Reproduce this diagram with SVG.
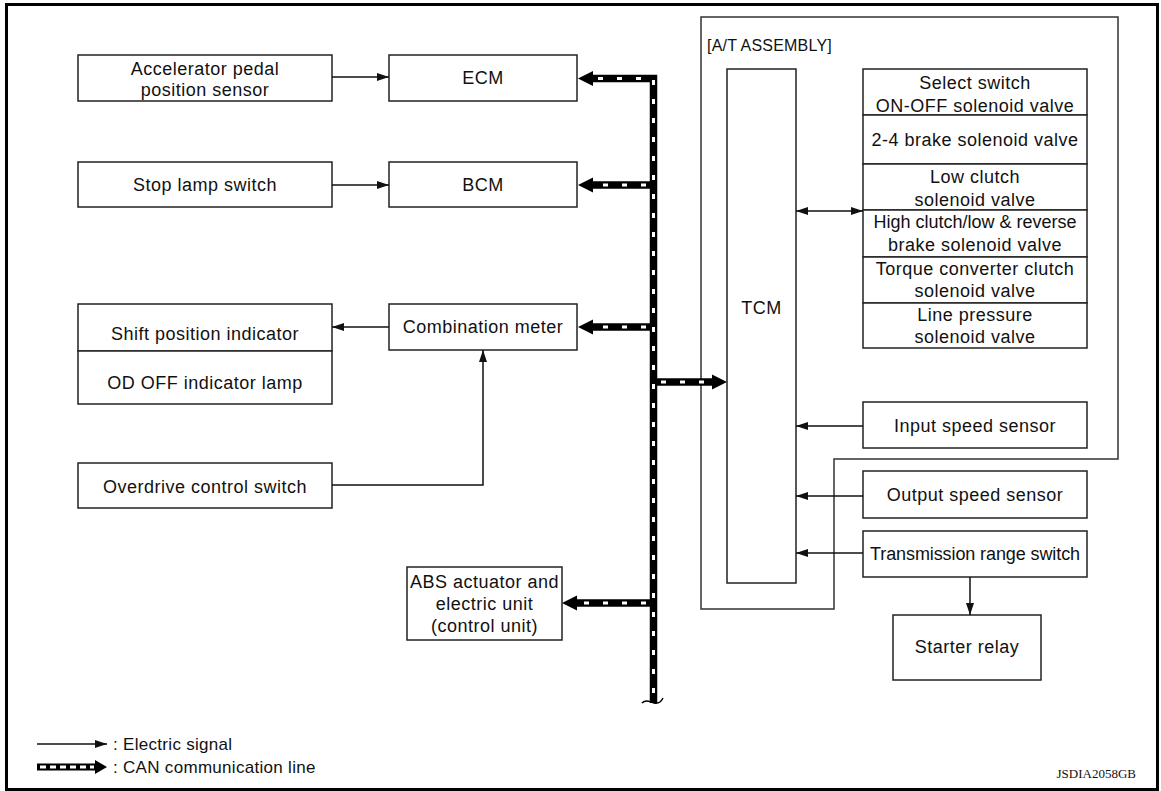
<svg xmlns="http://www.w3.org/2000/svg" width="1161" height="791" viewBox="0 0 1161 791">
  <style>
    .box { fill: #fff; stroke: #222; stroke-width: 1.5; }
    .frame { fill: none; stroke: #000; stroke-width: 3; }
    .asm { fill: none; stroke: #333; stroke-width: 1.5; }
    .lbl { font-family: "Liberation Sans", Arial, Helvetica, sans-serif; font-size: 18px; letter-spacing: 0.5px; fill: #111; text-anchor: middle; }
    .sig { fill: none; stroke: #111; stroke-width: 1.5; }
    .can { fill: none; stroke: #000; stroke-width: 7.5; }
    .can-dash { fill: none; stroke: #fff; stroke-width: 3; stroke-dasharray: 5 14; }
    .head { fill: #000; }
    .legend { font-family: "Liberation Sans", Arial, Helvetica, sans-serif; font-size: 17px; letter-spacing: 0.3px; fill: #111; }
    .code { font-family: "Liberation Serif", "Times New Roman", serif; font-size: 13px; fill: #111; }
  </style>
  <defs>
    <marker id="arr" viewBox="0 0 12 8" refX="12" refY="4" markerWidth="12" markerHeight="8" markerUnits="userSpaceOnUse" orient="auto-start-reverse">
      <path d="M0,0 L12,4 L0,8 Z" fill="#111"/>
    </marker>
  </defs>

  <rect class="frame" x="6.5" y="4.5" width="1151" height="785"/>

  <!-- A/T assembly boundary -->
  <g id="at-assembly">
    <path class="asm" d="M701,17 H1118 V459 H834 V609 H701 Z"/>
    <text class="lbl" x="707" y="51" style="text-anchor:start; font-size:16px; letter-spacing:0.2px">[A/T ASSEMBLY]</text>
  </g>

  <!-- left column -->
  <g id="accel-sensor">
    <rect class="box" x="78" y="55" width="254" height="46"/>
    <text class="lbl" x="205" y="75">Accelerator pedal</text>
    <text class="lbl" x="205" y="96">position sensor</text>
  </g>
  <g id="ecm">
    <rect class="box" x="389" y="55" width="188" height="46"/>
    <text class="lbl" x="483" y="84">ECM</text>
  </g>
  <g id="stop-lamp">
    <rect class="box" x="78" y="162" width="254" height="45"/>
    <text class="lbl" x="205" y="191">Stop lamp switch</text>
  </g>
  <g id="bcm">
    <rect class="box" x="389" y="162" width="188" height="45"/>
    <text class="lbl" x="483" y="191">BCM</text>
  </g>
  <g id="indicators">
    <rect class="box" x="78" y="304" width="254" height="47"/>
    <rect class="box" x="78" y="351" width="254" height="53"/>
    <text class="lbl" x="205" y="340">Shift position indicator</text>
    <text class="lbl" x="205" y="389">OD OFF indicator lamp</text>
  </g>
  <g id="combination-meter">
    <rect class="box" x="389" y="304" width="188" height="46"/>
    <text class="lbl" x="483" y="333">Combination meter</text>
  </g>
  <g id="od-switch">
    <rect class="box" x="78" y="463" width="254" height="45"/>
    <text class="lbl" x="205" y="493">Overdrive control switch</text>
  </g>
  <g id="abs">
    <rect class="box" x="407" y="567" width="155" height="73"/>
    <text class="lbl" x="484.5" y="588">ABS actuator and</text>
    <text class="lbl" x="484.5" y="610">electric unit</text>
    <text class="lbl" x="484.5" y="632">(control unit)</text>
  </g>

  <!-- transmission side -->
  <g id="tcm">
    <rect class="box" x="727" y="69" width="69" height="514"/>
    <text class="lbl" x="761.5" y="314">TCM</text>
  </g>
  <g id="solenoids">
    <rect class="box" x="863" y="69" width="224" height="46"/>
    <rect class="box" x="863" y="115" width="224" height="49"/>
    <rect class="box" x="863" y="164" width="224" height="46"/>
    <rect class="box" x="863" y="210" width="224" height="47"/>
    <rect class="box" x="863" y="257" width="224" height="46"/>
    <rect class="box" x="863" y="303" width="224" height="45"/>
    <text class="lbl" x="975" y="89">Select switch</text>
    <text class="lbl" x="975" y="112">ON-OFF solenoid valve</text>
    <text class="lbl" x="975" y="146">2-4 brake solenoid valve</text>
    <text class="lbl" x="975" y="183">Low clutch</text>
    <text class="lbl" x="975" y="206">solenoid valve</text>
    <text class="lbl" x="975" y="228" style="letter-spacing:0px">High clutch/low &amp; reverse</text>
    <text class="lbl" x="975" y="251">brake solenoid valve</text>
    <text class="lbl" x="975" y="275">Torque converter clutch</text>
    <text class="lbl" x="975" y="297">solenoid valve</text>
    <text class="lbl" x="975" y="321">Line pressure</text>
    <text class="lbl" x="975" y="343">solenoid valve</text>
  </g>
  <g id="input-speed">
    <rect class="box" x="863" y="402" width="224" height="46"/>
    <text class="lbl" x="975" y="432">Input speed sensor</text>
  </g>
  <g id="output-speed">
    <rect class="box" x="863" y="471" width="224" height="47"/>
    <text class="lbl" x="975" y="501">Output speed sensor</text>
  </g>
  <g id="range-switch">
    <rect class="box" x="863" y="531" width="224" height="46"/>
    <text class="lbl" x="975" y="560" style="letter-spacing:-0.1px">Transmission range switch</text>
  </g>
  <g id="starter-relay">
    <rect class="box" x="893" y="615" width="148" height="65"/>
    <text class="lbl" x="967" y="653">Starter relay</text>
  </g>

  <!-- connectors -->
  <g id="connectors">
    <!-- electric signal lines -->
    <path class="sig" d="M332,77 H389" marker-end="url(#arr)"/>
    <path class="sig" d="M332,185 H389" marker-end="url(#arr)"/>
    <path class="sig" d="M389,327 H332" marker-end="url(#arr)"/>
    <path class="sig" d="M332,485 H483 V350" marker-end="url(#arr)"/>
    <path class="sig" d="M796,211 H863" marker-start="url(#arr)" marker-end="url(#arr)"/>
    <path class="sig" d="M863,426 H796" marker-end="url(#arr)"/>
    <path class="sig" d="M863,496 H796" marker-end="url(#arr)"/>
    <path class="sig" d="M863,553 H796" marker-end="url(#arr)"/>
    <path class="sig" d="M970,577 V615" marker-end="url(#arr)"/>

    <!-- CAN bus trunk and branches -->
    <path class="can" d="M592,78.5 H653.5 V703"/>
    <path class="can" d="M653.5,185 H592"/>
    <path class="can" d="M653.5,327 H592"/>
    <path class="can" d="M653.5,603 H576"/>
    <path class="can" d="M653.5,382 H713"/>
    <path class="can-dash" d="M598,78.5 H653.5 V698"/>
    <path class="can-dash" d="M646,185 H596"/>
    <path class="can-dash" d="M646,327 H596"/>
    <path class="can-dash" d="M646,603 H580"/>
    <path class="can-dash" d="M661,382 H712"/>
    <path class="head" d="M578,78.5 L593,71 L593,86 Z"/>
    <path class="head" d="M578,185 L593,177.5 L593,192.5 Z"/>
    <path class="head" d="M578,327 L593,319.5 L593,334.5 Z"/>
    <path class="head" d="M562,603 L577,595.5 L577,610.5 Z"/>
    <path class="head" d="M727,382 L712,374.5 L712,389.5 Z"/>
    <!-- break mark at the trunk end -->
    <path d="M642,703 C646,699 650,702 654,703 C658,704 661,702 663,698" fill="none" stroke="#000" stroke-width="1.5"/>
  </g>

  <!-- legend -->
  <g id="legend">
    <path class="sig" d="M37,744 H107" marker-end="url(#arr)"/>
    <text class="legend" x="113" y="750">: Electric signal</text>
    <path d="M37,767 H96" fill="none" stroke="#000" stroke-width="7"/>
    <path d="M40,767 H94" fill="none" stroke="#fff" stroke-width="3" stroke-dasharray="6 4"/>
    <path class="head" d="M107,767 L95,760 L95,774 Z"/>
    <text class="legend" x="113" y="773">: CAN communication line</text>
  </g>

  <text class="code" x="1136" y="778" text-anchor="end">JSDIA2058GB</text>
</svg>
